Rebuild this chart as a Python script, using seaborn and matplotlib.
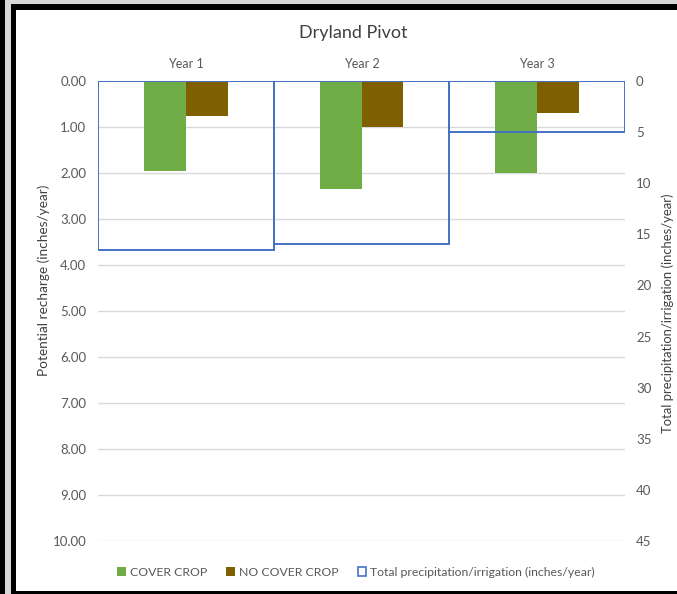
import matplotlib
matplotlib.use("Agg")
import matplotlib.pyplot as plt
from matplotlib.patches import Patch, Rectangle
import pandas as pd
import seaborn as sns

# Data
years = ["Year 1", "Year 2", "Year 3"]
cover_crop = [1.96, 2.34, 2.00]
no_cover_crop = [0.75, 1.00, 0.69]
total_precip = [16.5, 15.95, 5.0]

left_ticks = [0, 1, 2, 3, 4, 5, 6, 7, 8, 9, 10]
right_ticks = [0, 5, 10, 15, 20, 25, 30, 35, 40, 45]

GREEN = "#70AD47"
BROWN = "#7F6000"
BLUE = "#4472C4"
GRID = "#D9D9D9"
TXT = "#595959"

sns.set_theme(style="white")
plt.rcParams["font.family"] = ["Lato", "DejaVu Sans"]

recharge = pd.DataFrame({
    "year": years * 2,
    "series": ["COVER CROP"] * 3 + ["NO COVER CROP"] * 3,
    "value": cover_crop + no_cover_crop,
})
precip = pd.DataFrame({"year": years, "value": total_precip})

W, H = 677, 594
fig = plt.figure(figsize=(W / 100, H / 100), dpi=100, facecolor="white")
ax = fig.add_axes([98 / W, 1 - 541 / H, (625 - 98) / W, (541 - 81) / H])

sns.barplot(data=recharge, x="year", y="value", hue="series",
            palette=[GREEN, BROWN], width=0.477, gap=0, saturation=1,
            edgecolor="none", linewidth=0, ax=ax, legend=False, zorder=2)
ax.set_ylim(10, 0)
ax.set_yticks(left_ticks)
ax.set_yticklabels([f"{t:.2f}" for t in left_ticks])
ax.yaxis.grid(True, color=GRID, linewidth=1.0, zorder=0)
ax.set_axisbelow(True)
ax.xaxis.tick_top()
ax.tick_params(axis="x", length=0, pad=8, labelsize=9, labelcolor=TXT)
ax.tick_params(axis="y", length=0, pad=8.5, labelsize=9.5, labelcolor=TXT)
ax.set_xlabel("")
ax.set_ylabel("Potential recharge (inches/year)", fontsize=9.8, color="#404040")
ax.yaxis.set_label_coords((50 - 98) / 527, (541 - 280) / 460)
for s in ax.spines.values():
    s.set_visible(False)

ax2 = ax.twinx()
sns.barplot(data=precip, x="year", y="value", color=BLUE, fill=False,
            width=1.0, gap=0, linewidth=1.4, saturation=1, ax=ax2)
for p in ax2.patches:
    p.set_edgecolor(BLUE)
ax2.set_ylim(45, 0)
ax2.set_yticks(right_ticks)
ax2.tick_params(axis="y", length=0, pad=8, labelsize=9.5, labelcolor=TXT)
ax2.set_ylabel("Total precipitation/irrigation (inches/year)", fontsize=9.4,
               color="#404040", rotation=90)
ax2.yaxis.set_label_coords((661 - 98) / 527, (541 - 313) / 460)
for s in ax2.spines.values():
    s.set_visible(False)
ax.set_xlim(-0.5, 2.5)
ax2.set_xlim(-0.5, 2.5)

fig.text(353 / W, 1 - 33 / H, "Dryland Pivot", ha="center", va="center",
         fontsize=13, color="#404040")

handles = [
    Patch(facecolor=GREEN, edgecolor="none", label="COVER CROP"),
    Patch(facecolor=BROWN, edgecolor="none", label="NO COVER CROP"),
    Patch(facecolor="white", edgecolor=BLUE, linewidth=1.2,
          label="Total precipitation/irrigation (inches/year)"),
]
leg = fig.legend(handles=handles, loc="center", ncol=3, frameon=False,
                 bbox_to_anchor=(356 / W, 1 - 572 / H), fontsize=8.8,
                 handlelength=0.7, handleheight=0.7, handletextpad=0.3,
                 columnspacing=1.6)
for t in leg.get_texts():
    t.set_color(TXT)

# Surrounding frame
def rect(x0, y0, x1, y1, color):
    fig.add_artist(Rectangle((x0 / W, 1 - y1 / H), (x1 - x0) / W, (y1 - y0) / H,
                             transform=fig.transFigure, facecolor=color,
                             edgecolor="none", zorder=10))

rect(0, 0, 11, H, "#D6D6D6")
rect(0, 0, W, 4, "#D6D6D6")
rect(0, 0, 5, H, "black")
rect(11, 4, 16, H, "black")
rect(11, 4, W, 9.5, "black")
rect(11, 590.5, W, H, "black")

fig.savefig("out.png", dpi=100, facecolor="white")
